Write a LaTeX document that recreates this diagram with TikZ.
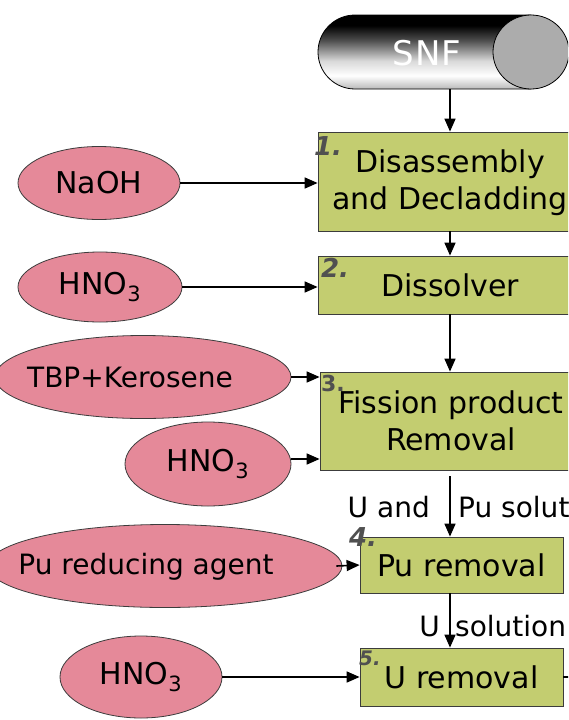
\documentclass[tikz,border=0pt]{standalone}
\usepackage{fontspec}
\setmainfont{DejaVu Sans}
\usetikzlibrary{shapes.geometric,arrows.meta}
\definecolor{boxgreen}{RGB}{195,205,112}
\definecolor{ovalpink}{RGB}{229,137,153}
\definecolor{hand}{RGB}{80,80,80}
\definecolor{edge}{RGB}{60,60,60}
\pgfdeclareverticalshading{snfshade}{100bp}{color(0bp)=(gray!55); color(25bp)=(gray!55); color(34bp)=(white); color(44bp)=(gray!30); color(58bp)=(gray!60!black); color(68bp)=(black); color(100bp)=(black)}
\begin{document}
\begin{tikzpicture}[x=1pt,y=1pt,
  stage/.style={draw=edge,line width=0.8pt,fill=boxgreen,inner sep=0pt,align=center,font=\fontsize{30}{37}\selectfont},
  oval/.style={ellipse,draw=edge,line width=0.8pt,fill=ovalpink,inner sep=0pt},
  ovaltext/.style={inner sep=0pt,font=\fontsize{28}{34}\selectfont},
  arr/.style={line width=1.6pt,-{Triangle[length=13pt,width=11pt]}},
  lbl/.style={inner sep=0pt,font=\fontsize{28}{34}\selectfont},
  handno/.style={inner sep=0pt,text=hand,font=\fontsize{26}{30}\selectfont\bfseries\itshape}]
\clip (0,0) rectangle (568,-720);
\fill[white] (0,0) rectangle (568,-720);
% SNF cylinder
\path[shading=snfshade,draw=black,line width=0.8pt] (355,-15) -- (531,-15) -- (531,-89) -- (355,-89) arc[start angle=270,end angle=90,radius=37] -- cycle;
\node[ellipse,draw=black,line width=0.8pt,fill=gray!65,minimum width=76pt,minimum height=74pt,inner sep=0pt] (snfend) at (531,-52) {};
\node[inner sep=0pt,text=white,font=\fontsize{34}{40}\selectfont] (snf) at (427,-53) {S\kern1.2pt N\kern1.2pt F};
\coordinate (snfbot) at (450,-89);
\coordinate (cx) at (450,0);
% stages
\node[stage,minimum width=264pt,minimum height=99pt] (b1) at (450,-181.5) {\rule{0pt}{26pt}Disassembly\\and Decladding};
\node[stage,minimum width=264pt,minimum height=58pt] (b2) at (450,-285) {Dissolver};
\node[stage,minimum width=262pt,minimum height=98pt] (b3) at (451,-421) {Fission product\\Removal};
\node[stage,minimum width=203pt,minimum height=56pt] (b4) at (461.5,-565) {Pu removal};
\node[stage,minimum width=203pt,minimum height=58pt] (b5) at (461.5,-677) {U removal};
% reagents
\node[oval,minimum width=162pt,minimum height=73pt,font=\fontsize{30}{36}\selectfont] (naoh) at (99,-183) {NaOH};
\node[oval,minimum width=164pt,minimum height=70pt,font=\fontsize{30}{36}\selectfont] (hno1) at (100,-287) {HNO\textsubscript{3}};
\node[oval,minimum width=296pt,minimum height=83pt] (tbp) at (143,-377) {};
\node[ovaltext] (tbptext) at (130,-377) {TBP+Kerosene};
\node[oval,minimum width=166pt,minimum height=84pt,font=\fontsize{30}{36}\selectfont] (hno2) at (208,-464) {HNO\textsubscript{3}};
\node[oval,minimum width=354pt,minimum height=83pt] (pu) at (165,-566) {};
\node[ovaltext] (putext) at (146,-567) {Pu reducing agent};
\node[oval,minimum width=162pt,minimum height=82pt,font=\fontsize{30}{36}\selectfont] (hno3) at (141,-677) {HNO\textsubscript{3}};
% main column arrows
\draw[arr] (snfbot) -- (b1.north -| cx);
\draw[arr] (b1.south -| cx) -- (b2.north -| cx);
\draw[arr] (b2.south -| cx) -- (b3.north -| cx);
\draw[arr,shorten <=6pt] (b3.south -| cx) -- (b4.north -| cx);
\draw[arr] (b4.south -| cx) -- (b5.north -| cx);
\draw[line width=1.6pt] (b5.east) -- ++(20,0);
% side arrows
\draw[arr] (naoh.east) -- (naoh.east -| b1.west);
\draw[arr] (hno1.east) -- (hno1.east -| b2.west);
\draw[arr] (tbp.east) -- (tbp.east -| b3.west);
\draw[arr] (hno2.east |- 0,-459) coordinate (h2s) -- (h2s -| b3.west);
\draw[arr] ([xshift=-6pt]pu.east) -- (b4.west);
\draw[arr] (hno3.east) -- (hno3.east -| b5.west);
% flow labels
\node[lbl,anchor=east] (l1) at (430,-507) {U and};
\node[lbl,anchor=west] (l2) at (458,-507) {Pu solution};
\node[lbl,anchor=east] (l3) at (440,-626) {U};
\node[lbl,anchor=west] (l4) at (455,-626) {solution};
% handwritten step numbers
\node[handno] (n1) at (328,-146) {1.};
\node[handno] (n2) at (335,-268) {2.};
\node[handno,font=\fontsize{22}{26}\selectfont\bfseries] (n3) at (333,-383) {3.};
\node[handno] (n4) at (363,-537) {4.};
\node[handno,font=\fontsize{20}{24}\selectfont\bfseries\itshape] (n5) at (370,-658) {5.};
\end{tikzpicture}
\end{document}
